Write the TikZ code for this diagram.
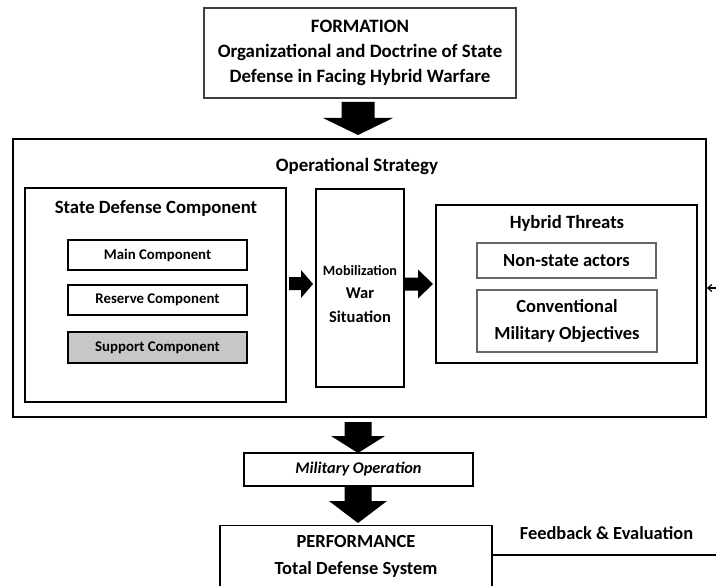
\documentclass[tikz,border=0pt]{standalone}
\usepackage{fontspec}
\setmainfont{Carlito}
\usetikzlibrary{arrows.meta}
\begin{document}
\begin{tikzpicture}[x=1pt,y=-1pt,
  box/.style={draw=black,line width=1.4pt,inner sep=0pt,align=center,font=\bfseries},
  lbox/.style={draw=black!60,line width=1.1pt,inner sep=0pt,align=center,font=\bfseries},
  lbl/.style={inner sep=0pt,align=center,font=\bfseries},
  blk/.style={fill=black,draw=none}]
\clip (0,0) rectangle (716,586);
\fill[white] (0,0) rectangle (716,586);
% top
\node[box,draw=black!75,line width=1.2pt,minimum width=312pt,minimum height=90pt,font=\bfseries\fontsize{18.9}{25}\selectfont] (form) at (360,53) {FORMATION\\Organizational and Doctrine of State\\Defense in Facing Hybrid Warfare};
% outer
\node[draw=black,line width=1.8pt,minimum width=693pt,minimum height=278pt,inner sep=0pt] (outer) at (359.5,278) {};
\node[lbl,font=\bfseries\fontsize{18.9}{22}\selectfont] (ops) at (357,166) {Operational Strategy};
% state defense
\node[box,minimum width=261pt,minimum height=214pt] (state) at (155.5,295) {};
\node[lbl,font=\bfseries\fontsize{18.7}{22}\selectfont] (statel) at (156,208) {State Defense Component};
\node[box,minimum width=179pt,minimum height=30pt,font=\bfseries\fontsize{14.8}{18}\selectfont] (main) at (157.5,255) {Main Component};
\node[box,minimum width=179pt,minimum height=30pt,font=\bfseries\fontsize{14.8}{18}\selectfont] (res) at (157.5,300) {Reserve Component};
\node[box,fill=black!22,minimum width=179pt,minimum height=31pt,font=\bfseries\fontsize{14.8}{18}\selectfont] (sup) at (157.5,347.5) {Support Component};
% mobilization
\node[box,minimum width=88pt,minimum height=198pt] (mob) at (360,288) {};
\node[lbl,font=\bfseries\fontsize{16.5}{23.5}\selectfont] (mobl) at (360,294) {{\fontsize{14.2}{23.5}\selectfont Mobilization}\\War\\Situation};
% hybrid
\node[box,minimum width=261pt,minimum height=158pt] (hyb) at (566.5,284) {};
\node[lbl,font=\bfseries\fontsize{18.7}{22}\selectfont] (hybl) at (567,223) {Hybrid Threats};
\node[lbox,minimum width=179pt,minimum height=35pt,font=\bfseries\fontsize{18.5}{22}\selectfont] (nsa) at (566.5,260.5) {Non-state actors};
\node[lbox,minimum width=180pt,minimum height=62pt,font=\bfseries\fontsize{18.5}{27}\selectfont] (conv) at (567,321) {Conventional\\Military Objectives};
% bottom
\node[box,line width=1.2pt,minimum width=229pt,minimum height=33pt,font=\bfseries\itshape\fontsize{16.3}{18}\selectfont] (milop) at (358.5,469.5) {Military Operation};
\node[box,line width=1.2pt,minimum width=272pt,minimum height=80pt,anchor=north] (perf) at (356,525) {};
\node[lbl,font=\bfseries\fontsize{18.5}{27}\selectfont] (perfl) at (356,556.5) {PERFORMANCE\\Total Defense System};
\node[lbl,font=\bfseries\fontsize{18.4}{22}\selectfont] (fbl) at (606.5,533) {Feedback \& Evaluation};
\coordinate (fbend) at (716,555);
\coordinate (fbin) at (716,288);
\draw[line width=1.3pt] (perf.east |- fbend) -- (fbend);
\draw[line width=1.2pt,-{Straight Barb[length=4pt,width=7pt]}] (fbin) -- (outer.east |- fbin);
% block arrows
\fill[blk] (341.5,102) -- (374.5,102) -- (374.5,118) -- (393,118) -- (358,135) -- (323,118) -- (341.5,118) -- cycle;
\fill[blk] (344.5,422) -- (371.5,422) -- (371.5,436) -- (385,436) -- (358,453) -- (331,436) -- (344.5,436) -- cycle;
\fill[blk] (344.5,487) -- (371.5,487) -- (371.5,501) -- (387,501) -- (358,523) -- (329,501) -- (344.5,501) -- cycle;
\fill[blk] (289,277) -- (301,277) -- (301,270) -- (313,284) -- (301,298) -- (301,290) -- (289,290) -- cycle;
\fill[blk] (405,277.5) -- (418,277.5) -- (418,269.5) -- (433,284) -- (418,298.5) -- (418,290.5) -- (405,290.5) -- cycle;
\end{tikzpicture}
\end{document}
